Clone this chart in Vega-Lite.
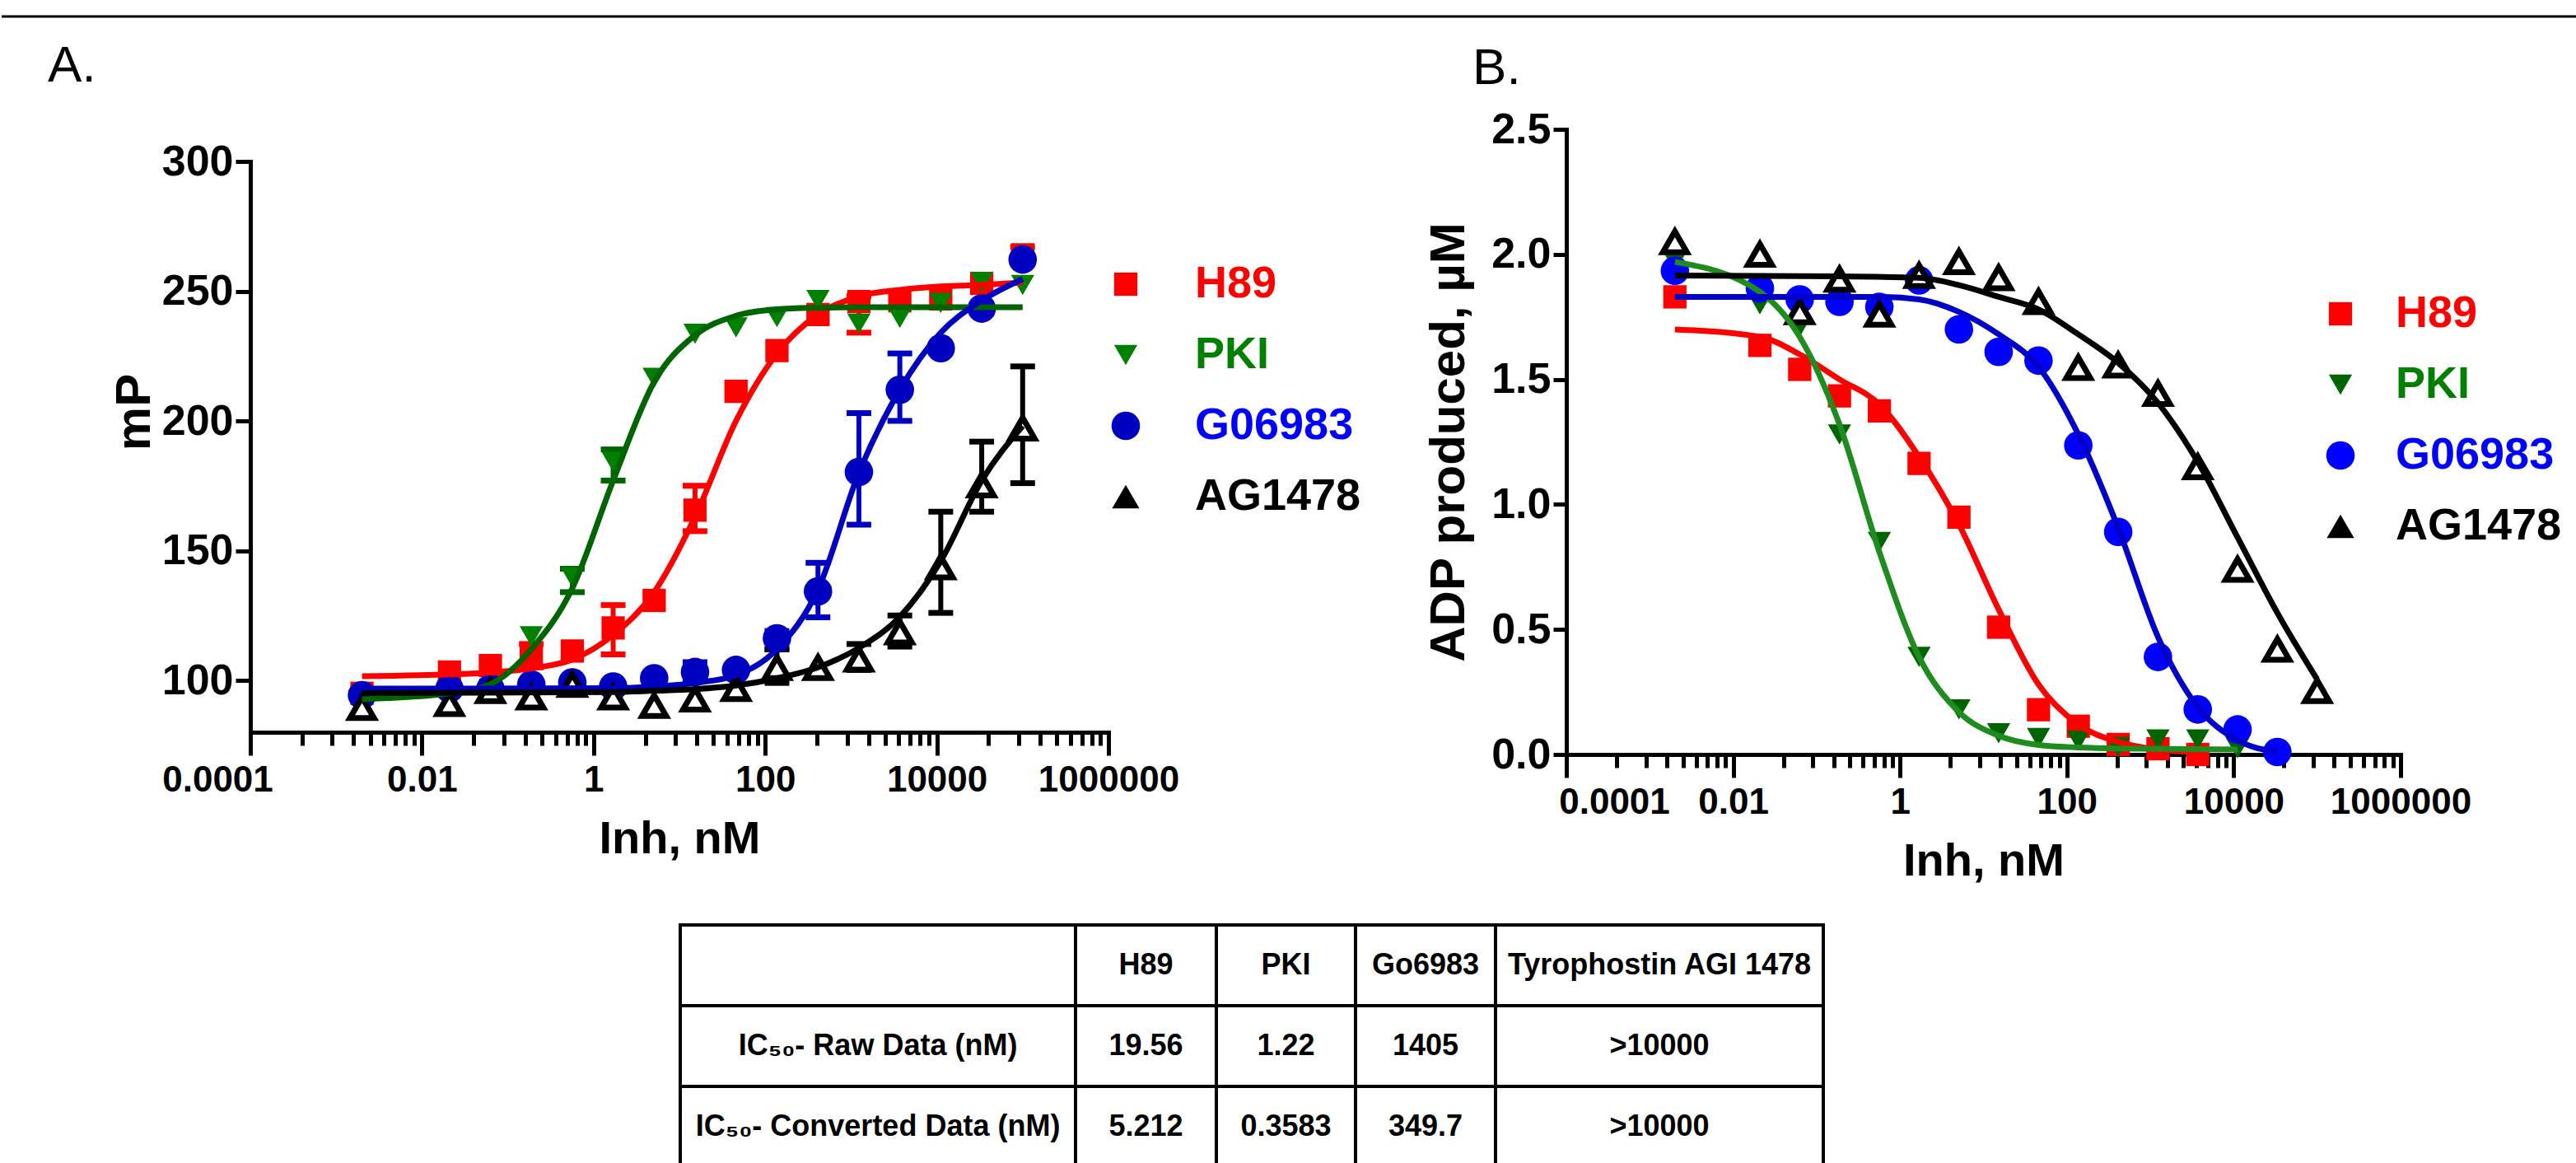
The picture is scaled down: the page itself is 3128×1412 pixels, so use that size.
{
"$schema": "https://vega.github.io/schema/vega-lite/v6.json",
"background": "white",
"padding": 0,
"spacing": 23,
"bounds": "flush",
"config": {
  "view": {"stroke": null},
  "font": "Liberation Sans",
  "axis": {"grid": false, "domainColor": "black", "domainWidth": 5, "domainCap": "square", "tickColor": "black", "tickWidth": 5, "labelFont": "Liberation Sans", "labelFontSize": 44, "labelFontWeight": "bold", "labelColor": "black", "titleFont": "Liberation Sans", "titleFontSize": 56, "titleFontWeight": "bold", "titleColor": "black", "labelFlush": false, "labelOverlap": false}
},
"datasets": {
  "ptsA": [
    {"series":"H89","conc":0.002,"value":95},{"series":"H89","conc":0.0209,"value":103.2},{"series":"H89","conc":0.0627,"value":105.7},{"series":"H89","conc":0.188,"value":108.9},{"series":"H89","conc":0.565,"value":111.3},{"series":"H89","conc":1.69,"value":120.2},{"series":"H89","conc":5.08,"value":130.8},{"series":"H89","conc":15.2,"value":165.6},{"series":"H89","conc":45.7,"value":211.4},{"series":"H89","conc":137,"value":227.1},{"series":"H89","conc":412,"value":241},{"series":"H89","conc":1235,"value":246},{"series":"H89","conc":3704,"value":246.3},{"series":"H89","conc":11111,"value":247},{"series":"H89","conc":33333,"value":253},{"series":"H89","conc":100000,"value":264},
    {"series":"PKI","conc":0.002,"value":93},{"series":"PKI","conc":0.0209,"value":96},{"series":"PKI","conc":0.0627,"value":96.8},{"series":"PKI","conc":0.188,"value":117},{"series":"PKI","conc":0.565,"value":139.7},{"series":"PKI","conc":1.69,"value":184.2},{"series":"PKI","conc":5.08,"value":216.6},{"series":"PKI","conc":15.2,"value":233.6},{"series":"PKI","conc":45.7,"value":236},{"series":"PKI","conc":137,"value":240},{"series":"PKI","conc":412,"value":246.6},{"series":"PKI","conc":1235,"value":237.5},{"series":"PKI","conc":3704,"value":239.7},{"series":"PKI","conc":11111,"value":245.5},{"series":"PKI","conc":33333,"value":253.5},{"series":"PKI","conc":100000,"value":252.4},
    {"series":"G06983","conc":0.002,"value":94.3},{"series":"G06983","conc":0.0209,"value":96.8},{"series":"G06983","conc":0.0627,"value":96.8},{"series":"G06983","conc":0.188,"value":98.4},{"series":"G06983","conc":0.565,"value":99.2},{"series":"G06983","conc":1.69,"value":97.6},{"series":"G06983","conc":5.08,"value":100.8},{"series":"G06983","conc":15.2,"value":103.2},{"series":"G06983","conc":45.7,"value":104},{"series":"G06983","conc":137,"value":116.2},{"series":"G06983","conc":412,"value":134.3},{"series":"G06983","conc":1235,"value":180.3},{"series":"G06983","conc":3704,"value":212},{"series":"G06983","conc":11111,"value":228},{"series":"G06983","conc":33333,"value":243.3},{"series":"G06983","conc":100000,"value":262.2},
    {"series":"AG1478","conc":0.002,"value":89.5},{"series":"AG1478","conc":0.0209,"value":91},{"series":"AG1478","conc":0.0627,"value":96},{"series":"AG1478","conc":0.188,"value":93.5},{"series":"AG1478","conc":0.565,"value":98.4},{"series":"AG1478","conc":1.69,"value":93.5},{"series":"AG1478","conc":5.08,"value":90.3},{"series":"AG1478","conc":15.2,"value":92.7},{"series":"AG1478","conc":45.7,"value":96.8},{"series":"AG1478","conc":137,"value":104.9},{"series":"AG1478","conc":412,"value":104.9},{"series":"AG1478","conc":1235,"value":108.1},{"series":"AG1478","conc":3704,"value":118.6},{"series":"AG1478","conc":11111,"value":143.7},{"series":"AG1478","conc":33333,"value":175.3},{"series":"AG1478","conc":100000,"value":197.2}
  ],
  "errA": [
    {"series":"H89","conc":0.188,"lo":105,"hi":114},{"series":"H89","conc":1.69,"lo":110,"hi":129},{"series":"H89","conc":15.2,"lo":157.5,"hi":175},{"series":"H89","conc":1235,"lo":234,"hi":248},{"series":"H89","conc":100000,"lo":261,"hi":267},
    {"series":"PKI","conc":0.565,"lo":134,"hi":143},{"series":"PKI","conc":1.69,"lo":177,"hi":189},
    {"series":"G06983","conc":15.2,"lo":100,"hi":107},{"series":"G06983","conc":137,"lo":112,"hi":119},{"series":"G06983","conc":412,"lo":124.3,"hi":145.3},{"series":"G06983","conc":1235,"lo":160,"hi":203},{"series":"G06983","conc":3704,"lo":200,"hi":226},
    {"series":"AG1478","conc":137,"lo":99,"hi":112},{"series":"AG1478","conc":1235,"lo":104,"hi":114},{"series":"AG1478","conc":3704,"lo":113,"hi":125},{"series":"AG1478","conc":11111,"lo":126,"hi":165},{"series":"AG1478","conc":33333,"lo":165,"hi":192},{"series":"AG1478","conc":100000,"lo":176,"hi":221}
  ],
  "curveA": [
    {"series":"H89","conc":0.002,"value":101.6},{"series":"H89","conc":0.0209,"value":102.3},{"series":"H89","conc":0.0627,"value":103},{"series":"H89","conc":0.188,"value":104.6},{"series":"H89","conc":0.565,"value":108},{"series":"H89","conc":1.69,"value":117.5},{"series":"H89","conc":5.08,"value":134},{"series":"H89","conc":15.2,"value":163},{"series":"H89","conc":45.7,"value":200},{"series":"H89","conc":137,"value":226},{"series":"H89","conc":412,"value":241},{"series":"H89","conc":1235,"value":248},{"series":"H89","conc":3704,"value":250.5},{"series":"H89","conc":11111,"value":251.8},{"series":"H89","conc":33333,"value":252.4},{"series":"H89","conc":100000,"value":253.3},
    {"series":"PKI","conc":0.002,"value":92.7},{"series":"PKI","conc":0.0209,"value":95},{"series":"PKI","conc":0.0627,"value":98.5},{"series":"PKI","conc":0.188,"value":112},{"series":"PKI","conc":0.565,"value":135.5},{"series":"PKI","conc":1.69,"value":177},{"series":"PKI","conc":5.08,"value":215},{"series":"PKI","conc":15.2,"value":233},{"series":"PKI","conc":45.7,"value":240.5},{"series":"PKI","conc":137,"value":243},{"series":"PKI","conc":412,"value":243.6},{"series":"PKI","conc":1235,"value":243.8},{"series":"PKI","conc":100000,"value":243.8},
    {"series":"G06983","conc":0.002,"value":96.8},{"series":"G06983","conc":1.69,"value":97},{"series":"G06983","conc":5.08,"value":97.6},{"series":"G06983","conc":15.2,"value":99},{"series":"G06983","conc":45.7,"value":102},{"series":"G06983","conc":137,"value":112},{"series":"G06983","conc":412,"value":135},{"series":"G06983","conc":1235,"value":180},{"series":"G06983","conc":3704,"value":212},{"series":"G06983","conc":11111,"value":234},{"series":"G06983","conc":33333,"value":246.4},{"series":"G06983","conc":100000,"value":254.7},
    {"series":"AG1478","conc":0.002,"value":95.1},{"series":"AG1478","conc":1.69,"value":95.5},{"series":"AG1478","conc":5.08,"value":96},{"series":"AG1478","conc":15.2,"value":96.6},{"series":"AG1478","conc":45.7,"value":98},{"series":"AG1478","conc":137,"value":100.8},{"series":"AG1478","conc":412,"value":105},{"series":"AG1478","conc":1235,"value":112.5},{"series":"AG1478","conc":3704,"value":124.5},{"series":"AG1478","conc":11111,"value":146},{"series":"AG1478","conc":33333,"value":177},{"series":"AG1478","conc":100000,"value":198}
  ],
  "ptsB": [
    {"series":"H89","conc":0.002,"value":1.83},{"series":"H89","conc":0.0209,"value":1.636},{"series":"H89","conc":0.0627,"value":1.54},{"series":"H89","conc":0.188,"value":1.434},{"series":"H89","conc":0.565,"value":1.374},{"series":"H89","conc":1.69,"value":1.164},{"series":"H89","conc":5.08,"value":0.949},{"series":"H89","conc":15.2,"value":0.509},{"series":"H89","conc":45.7,"value":0.179},{"series":"H89","conc":137,"value":0.113},{"series":"H89","conc":412,"value":0.04},{"series":"H89","conc":1235,"value":0.023},{"series":"H89","conc":3704,"value":0.0},
    {"series":"PKI","conc":0.002,"value":1.97},{"series":"PKI","conc":0.0209,"value":1.8},{"series":"PKI","conc":0.0627,"value":1.71},{"series":"PKI","conc":0.188,"value":1.28},{"series":"PKI","conc":0.565,"value":0.85},{"series":"PKI","conc":1.69,"value":0.39},{"series":"PKI","conc":5.08,"value":0.18},{"series":"PKI","conc":15.2,"value":0.085},{"series":"PKI","conc":45.7,"value":0.066},{"series":"PKI","conc":137,"value":0.055},{"series":"PKI","conc":412,"value":0.03},{"series":"PKI","conc":1235,"value":0.06},{"series":"PKI","conc":3704,"value":0.06},{"series":"PKI","conc":11111,"value":0.025},
    {"series":"G06983","conc":0.002,"value":1.934},{"series":"G06983","conc":0.0209,"value":1.864},{"series":"G06983","conc":0.0627,"value":1.82},{"series":"G06983","conc":0.188,"value":1.81},{"series":"G06983","conc":0.565,"value":1.79},{"series":"G06983","conc":1.69,"value":1.896},{"series":"G06983","conc":5.08,"value":1.7},{"series":"G06983","conc":15.2,"value":1.61},{"series":"G06983","conc":45.7,"value":1.575},{"series":"G06983","conc":137,"value":1.236},{"series":"G06983","conc":412,"value":0.89},{"series":"G06983","conc":1235,"value":0.39},{"series":"G06983","conc":3704,"value":0.18},{"series":"G06983","conc":11111,"value":0.1},{"series":"G06983","conc":33333,"value":0.01},
    {"series":"AG1478","conc":0.002,"value":2.05},{"series":"AG1478","conc":0.0209,"value":2.0},{"series":"AG1478","conc":0.0627,"value":1.77},{"series":"AG1478","conc":0.188,"value":1.9},{"series":"AG1478","conc":0.565,"value":1.76},{"series":"AG1478","conc":1.69,"value":1.915},{"series":"AG1478","conc":5.08,"value":1.97},{"series":"AG1478","conc":15.2,"value":1.906},{"series":"AG1478","conc":45.7,"value":1.81},{"series":"AG1478","conc":137,"value":1.547},{"series":"AG1478","conc":412,"value":1.557},{"series":"AG1478","conc":1235,"value":1.443},{"series":"AG1478","conc":3704,"value":1.15},{"series":"AG1478","conc":11111,"value":0.74},{"series":"AG1478","conc":33333,"value":0.42},{"series":"AG1478","conc":100000,"value":0.255}
  ],
  "curveB": [
    {"series":"H89","conc":0.002,"value":1.7},{"series":"H89","conc":0.0209,"value":1.67},{"series":"H89","conc":0.0627,"value":1.6},{"series":"H89","conc":0.188,"value":1.5},{"series":"H89","conc":0.565,"value":1.4},{"series":"H89","conc":1.69,"value":1.19},{"series":"H89","conc":5.08,"value":0.92},{"series":"H89","conc":15.2,"value":0.58},{"series":"H89","conc":45.7,"value":0.28},{"series":"H89","conc":137,"value":0.12},{"series":"H89","conc":412,"value":0.05},{"series":"H89","conc":1235,"value":0.02},{"series":"H89","conc":3704,"value":0.01},
    {"series":"PKI","conc":0.002,"value":1.97},{"series":"PKI","conc":0.0209,"value":1.85},{"series":"PKI","conc":0.0627,"value":1.67},{"series":"PKI","conc":0.188,"value":1.32},{"series":"PKI","conc":0.565,"value":0.81},{"series":"PKI","conc":1.69,"value":0.39},{"series":"PKI","conc":5.08,"value":0.17},{"series":"PKI","conc":15.2,"value":0.075},{"series":"PKI","conc":45.7,"value":0.038},{"series":"PKI","conc":137,"value":0.028},{"series":"PKI","conc":412,"value":0.024},{"series":"PKI","conc":11111,"value":0.02},
    {"series":"G06983","conc":0.002,"value":1.83},{"series":"G06983","conc":0.565,"value":1.83},{"series":"G06983","conc":1.69,"value":1.82},{"series":"G06983","conc":5.08,"value":1.77},{"series":"G06983","conc":15.2,"value":1.68},{"series":"G06983","conc":45.7,"value":1.55},{"series":"G06983","conc":137,"value":1.28},{"series":"G06983","conc":412,"value":0.906},{"series":"G06983","conc":1235,"value":0.47},{"series":"G06983","conc":3704,"value":0.19},{"series":"G06983","conc":11111,"value":0.057},{"series":"G06983","conc":33333,"value":0.01},
    {"series":"AG1478","conc":0.002,"value":1.915},{"series":"AG1478","conc":0.188,"value":1.912},{"series":"AG1478","conc":1.69,"value":1.906},{"series":"AG1478","conc":5.08,"value":1.877},{"series":"AG1478","conc":15.2,"value":1.83},{"series":"AG1478","conc":45.7,"value":1.78},{"series":"AG1478","conc":137,"value":1.68},{"series":"AG1478","conc":412,"value":1.566},{"series":"AG1478","conc":1235,"value":1.406},{"series":"AG1478","conc":3704,"value":1.17},{"series":"AG1478","conc":11111,"value":0.868},{"series":"AG1478","conc":33333,"value":0.566},{"series":"AG1478","conc":100000,"value":0.3}
  ],
  "table": [
    {"row":"h","col":"c1","text":""},{"row":"h","col":"c2","text":"H89"},{"row":"h","col":"c3","text":"PKI"},{"row":"h","col":"c4","text":"Go6983"},{"row":"h","col":"c5","text":"Tyrophostin AGI 1478"},
    {"row":"r1","col":"c1","text":"IC₅₀- Raw Data (nM)"},{"row":"r1","col":"c2","text":"19.56"},{"row":"r1","col":"c3","text":"1.22"},{"row":"r1","col":"c4","text":"1405"},{"row":"r1","col":"c5","text":">10000"},
    {"row":"r2","col":"c1","text":"IC₅₀- Converted Data (nM)"},{"row":"r2","col":"c2","text":"5.212"},{"row":"r2","col":"c3","text":"0.3583"},{"row":"r2","col":"c4","text":"349.7"},{"row":"r2","col":"c5","text":">10000"}
  ]
},
"vconcat": [
  {
    "width": 3128, "height": 1100,
    "resolve": {"scale": {"x": "independent", "y": "independent", "fill": "independent", "shape": "independent", "stroke": "independent"}, "axis": {"x": "independent", "y": "independent"}, "legend": {"fill": "independent", "shape": "independent", "stroke": "independent"}},
    "layer": [
      {
        "layer": [
          {
            "data": {"values": [{"label": "top rule"}]},
            "mark": {"type": "rule", "strokeWidth": 3, "color": "black"},
            "encoding": {"y": {"datum": 355.9, "type": "quantitative", "title": "mP", "scale": {"domain": [80, 300], "range": [889, 196], "nice": false, "zero": false}}}
          },
          {
            "data": {"values": [{"label": "A."}]},
            "mark": {"type": "text", "font": "Liberation Sans", "fontSize": 62, "fontWeight": "normal", "align": "left", "baseline": "alphabetic", "color": "black"},
            "encoding": {
              "text": {"field": "label"},
              "x": {"datum": 4.36e-7, "type": "quantitative", "title": "Inh, nM", "scale": {"type": "log", "domain": [0.0001, 1000000], "range": [302, 1344], "nice": false}},
              "y": {"datum": 330.8, "type": "quantitative", "title": "mP", "scale": {"domain": [80, 300], "range": [889, 196], "nice": false, "zero": false}}
            }
          },
          {
            "data": {"name": "errA"},
            "mark": {"type": "rule", "strokeWidth": 6},
            "encoding": {
              "x": {"field": "conc", "type": "quantitative", "title": "Inh, nM", "scale": {"type": "log", "domain": [0.0001, 1000000], "range": [302, 1344], "nice": false}},
              "y": {"field": "lo", "type": "quantitative", "title": "mP", "scale": {"domain": [80, 300], "range": [889, 196], "nice": false, "zero": false}},
              "y2": {"field": "hi"},
              "stroke": {"field": "series", "type": "nominal", "scale": {"domain": ["AG1478", "G06983", "PKI", "H89"], "range": ["#000000", "#0000c0", "#006400", "#ff0000"]}, "legend": null}
            }
          },
          {
            "data": {"name": "errA"},
            "transform": [{"fold": ["lo", "hi"], "as": ["end", "yv"]}],
            "mark": {"type": "point", "shape": "stroke", "filled": false, "size": 900, "strokeWidth": 7, "opacity": 1},
            "encoding": {
              "x": {"field": "conc", "type": "quantitative", "title": "Inh, nM", "scale": {"type": "log", "domain": [0.0001, 1000000], "range": [302, 1344], "nice": false}},
              "y": {"field": "yv", "type": "quantitative", "title": "mP", "scale": {"domain": [80, 300], "range": [889, 196], "nice": false, "zero": false}},
              "stroke": {"field": "series", "type": "nominal", "scale": {"domain": ["AG1478", "G06983", "PKI", "H89"], "range": ["#000000", "#0000c0", "#006400", "#ff0000"]}, "legend": null}
            }
          },
          {
            "data": {"name": "ptsA"},
            "mark": {"type": "point", "filled": true, "opacity": 1},
            "encoding": {
              "x": {"field": "conc", "type": "quantitative", "title": "Inh, nM", "scale": {"type": "log", "domain": [0.0001, 1000000], "range": [302, 1344], "nice": false},
                "axis": {"orient": "bottom", "offset": -211, "values": [0.0001,0.0004,0.0009,0.0016,0.0025,0.0036,0.0049,0.0064,0.0081,0.01,0.04,0.09,0.16,0.25,0.36,0.49,0.64,0.81,1,4,9,16,25,36,49,64,81,100,400,900,1600,2500,3600,4900,6400,8100,10000,40000,90000,160000,250000,360000,490000,640000,810000,1000000],
                  "tickSize": {"condition": {"test": "abs(log(datum.value)/LN10 - round(log(datum.value)/LN10)) < 0.01", "value": 28}, "value": 16},
                  "labelExpr": "abs(log(datum.value)/LN10 - round(log(datum.value)/LN10)) < 0.01 ? format(datum.value, '~f') : ''",
                  "labelOffset": {"condition": {"test": "datum.value < 0.001", "value": -40}, "value": 0},
                  "labelFontSize": 44, "labelPadding": 8, "titlePadding": 22}},
              "y": {"field": "value", "type": "quantitative", "title": "mP", "scale": {"domain": [80, 300], "range": [889, 196], "nice": false, "zero": false},
                "axis": {"orient": "left", "offset": -302, "values": [100, 150, 200, 250, 300], "tickSize": 18, "labelFontSize": 52, "labelPadding": 3, "titleFontSize": 60, "titlePadding": 2, "titleY": 500}},
              "fill": {"field": "series", "type": "nominal", "scale": {"domain": ["H89", "PKI", "G06983", "AG1478"], "range": ["#ff0000", "#008000", "#0000c0", "#000000"]},
                "condition": {"test": "datum.series === 'AG1478'", "value": "#ffffff"},
                "legend": {"title": null, "values": ["H89", "PKI", "G06983", "AG1478"], "orient": "none", "legendX": 1338, "legendY": 318, "padding": 0, "labelFont": "Liberation Sans", "labelFontSize": 54, "labelFontWeight": "bold", "labelLimit": 500, "labelOffset": 57, "rowPadding": 32, "symbolOpacity": 1,
                  "labelColor": {"expr": "datum.value === 'H89' ? '#ff0000' : datum.value === 'PKI' ? '#008000' : datum.value === 'G06983' ? '#0000ff' : '#000000'"},
                  "symbolSize": {"expr": "datum.value === 'G06983' ? 1200 : datum.value === 'AG1478' ? 1100 : 800"}}},
              "shape": {"field": "series", "type": "nominal", "scale": {"domain": ["H89", "PKI", "G06983", "AG1478"], "range": ["square", "triangle-down", "circle", "triangle-up"]}},
              "size": {"condition": [{"test": "datum.series === 'G06983'", "value": 1200}, {"test": "datum.series === 'AG1478'", "value": 850}], "value": 800},
              "stroke": {"condition": {"test": "datum.series === 'AG1478'", "value": "#000000"}, "value": "transparent"},
              "strokeWidth": {"condition": {"test": "datum.series === 'AG1478'", "value": 7}, "value": 0}
            }
          },
          {
            "data": {"name": "curveA"},
            "mark": {"type": "line", "strokeWidth": 7, "interpolate": "monotone"},
            "encoding": {
              "x": {"field": "conc", "type": "quantitative", "title": "Inh, nM", "scale": {"type": "log", "domain": [0.0001, 1000000], "range": [302, 1344], "nice": false}},
              "y": {"field": "value", "type": "quantitative", "title": "mP", "scale": {"domain": [80, 300], "range": [889, 196], "nice": false, "zero": false}},
              "stroke": {"field": "series", "type": "nominal", "scale": {"domain": ["AG1478", "G06983", "PKI", "H89"], "range": ["#000000", "#0000c0", "#006400", "#ff0000"]}, "legend": null}
            }
          }
        ]
      },
      {
        "layer": [
          {
            "data": {"values": [{"label": "B."}]},
            "mark": {"type": "text", "font": "Liberation Sans", "fontSize": 62, "fontWeight": "normal", "align": "left", "baseline": "alphabetic", "color": "black"},
            "encoding": {
              "text": {"field": "label"},
              "x": {"datum": 7.5e-6, "type": "quantitative", "title": "Inh, nM", "scale": {"type": "log", "domain": [0.0001, 1000000], "range": [1900, 2913], "nice": false}},
              "y": {"datum": 2.681, "type": "quantitative", "title": "ADP produced, µM", "scale": {"domain": [0, 2.5], "range": [916, 157], "nice": false, "zero": false}}
            }
          },
          {
            "data": {"name": "ptsB"},
            "mark": {"type": "point", "filled": true, "opacity": 1},
            "encoding": {
              "x": {"field": "conc", "type": "quantitative", "title": "Inh, nM", "scale": {"type": "log", "domain": [0.0001, 1000000], "range": [1900, 2913], "nice": false},
                "axis": {"orient": "bottom", "offset": -184, "values": [0.0001,0.0004,0.0009,0.0016,0.0025,0.0036,0.0049,0.0064,0.0081,0.01,0.04,0.09,0.16,0.25,0.36,0.49,0.64,0.81,1,4,9,16,25,36,49,64,81,100,400,900,1600,2500,3600,4900,6400,8100,10000,40000,90000,160000,250000,360000,490000,640000,810000,1000000],
                  "tickSize": {"condition": {"test": "abs(log(datum.value)/LN10 - round(log(datum.value)/LN10)) < 0.01", "value": 28}, "value": 16},
                  "labelExpr": "abs(log(datum.value)/LN10 - round(log(datum.value)/LN10)) < 0.01 ? format(datum.value, '~f') : ''",
                  "labelOffset": {"condition": {"test": "datum.value < 0.001", "value": 58}, "value": 0},
                  "labelFontSize": 44, "labelPadding": 8, "titlePadding": 22}},
              "y": {"field": "value", "type": "quantitative", "title": "ADP produced, µM", "scale": {"domain": [0, 2.5], "range": [916, 157], "nice": false, "zero": false},
                "axis": {"orient": "left", "offset": -1900, "values": [0, 0.5, 1, 1.5, 2, 2.5], "format": ".1f", "tickSize": 16, "labelFontSize": 52, "labelPadding": 3, "titleFontSize": 60, "titlePadding": 20}},
              "fill": {"field": "series", "type": "nominal", "scale": {"domain": ["AG1478", "G06983", "PKI", "H89"], "range": ["#000000", "#0000ff", "#006400", "#ff0000"]},
                "condition": {"test": "datum.series === 'AG1478'", "value": "#ffffff"},
                "legend": {"title": null, "values": ["H89", "PKI", "G06983", "AG1478"], "orient": "none", "legendX": 2813, "legendY": 354, "padding": 0, "labelFont": "Liberation Sans", "labelFontSize": 54, "labelFontWeight": "bold", "labelLimit": 500, "labelOffset": 40, "rowPadding": 32, "symbolOpacity": 1,
                  "labelColor": {"expr": "datum.value === 'H89' ? '#ff0000' : datum.value === 'PKI' ? '#008000' : datum.value === 'G06983' ? '#0000ff' : '#000000'"},
                  "symbolSize": {"expr": "datum.value === 'G06983' ? 1200 : datum.value === 'AG1478' ? 1100 : 800"}}},
              "shape": {"field": "series", "type": "nominal", "scale": {"domain": ["AG1478", "G06983", "PKI", "H89"], "range": ["triangle-up", "circle", "triangle-down", "square"]}},
              "size": {"condition": [{"test": "datum.series === 'G06983'", "value": 1200}, {"test": "datum.series === 'AG1478'", "value": 850}], "value": 800},
              "stroke": {"condition": {"test": "datum.series === 'AG1478'", "value": "#000000"}, "value": "transparent"},
              "strokeWidth": {"condition": {"test": "datum.series === 'AG1478'", "value": 7}, "value": 0}
            }
          },
          {
            "data": {"name": "curveB"},
            "mark": {"type": "line", "strokeWidth": 7, "interpolate": "monotone"},
            "encoding": {
              "x": {"field": "conc", "type": "quantitative", "title": "Inh, nM", "scale": {"type": "log", "domain": [0.0001, 1000000], "range": [1900, 2913], "nice": false}},
              "y": {"field": "value", "type": "quantitative", "title": "ADP produced, µM", "scale": {"domain": [0, 2.5], "range": [916, 157], "nice": false, "zero": false}},
              "stroke": {"field": "series", "type": "nominal", "scale": {"domain": ["H89", "PKI", "G06983", "AG1478"], "range": ["#ff0000", "#1e8c1e", "#0000c8", "#000000"]}, "legend": null}
            }
          }
        ]
      }
    ]
  },
  {
    "hconcat": [
      {"width": 824, "height": 294, "data": {"values": [{"a": 1}]}, "mark": {"type": "point", "opacity": 0}},
      {"width": 480, "height": 294, "data": {"name": "table"}, "transform": [{"filter": "datum.col === 'c1'"}],
        "layer": [
          {"mark": {"type": "rect", "fill": "white", "stroke": "black", "strokeWidth": 4}, "encoding": {"y": {"field": "row", "type": "nominal", "scale": {"domain": ["h", "r1", "r2"], "paddingInner": 0, "paddingOuter": 0}, "axis": null}}},
          {"mark": {"type": "text", "font": "Liberation Sans", "fontSize": 36, "fontWeight": "bold", "color": "black"}, "encoding": {"y": {"field": "row", "type": "nominal", "scale": {"domain": ["h", "r1", "r2"], "paddingInner": 0, "paddingOuter": 0}, "axis": null}, "text": {"field": "text"}}}
        ]},
      {"width": 171, "height": 294, "data": {"name": "table"}, "transform": [{"filter": "datum.col === 'c2'"}],
        "layer": [
          {"mark": {"type": "rect", "fill": "white", "stroke": "black", "strokeWidth": 4}, "encoding": {"y": {"field": "row", "type": "nominal", "scale": {"domain": ["h", "r1", "r2"], "paddingInner": 0, "paddingOuter": 0}, "axis": null}}},
          {"mark": {"type": "text", "font": "Liberation Sans", "fontSize": 36, "fontWeight": "bold", "color": "black"}, "encoding": {"y": {"field": "row", "type": "nominal", "scale": {"domain": ["h", "r1", "r2"], "paddingInner": 0, "paddingOuter": 0}, "axis": null}, "text": {"field": "text"}}}
        ]},
      {"width": 169, "height": 294, "data": {"name": "table"}, "transform": [{"filter": "datum.col === 'c3'"}],
        "layer": [
          {"mark": {"type": "rect", "fill": "white", "stroke": "black", "strokeWidth": 4}, "encoding": {"y": {"field": "row", "type": "nominal", "scale": {"domain": ["h", "r1", "r2"], "paddingInner": 0, "paddingOuter": 0}, "axis": null}}},
          {"mark": {"type": "text", "font": "Liberation Sans", "fontSize": 36, "fontWeight": "bold", "color": "black"}, "encoding": {"y": {"field": "row", "type": "nominal", "scale": {"domain": ["h", "r1", "r2"], "paddingInner": 0, "paddingOuter": 0}, "axis": null}, "text": {"field": "text"}}}
        ]},
      {"width": 170, "height": 294, "data": {"name": "table"}, "transform": [{"filter": "datum.col === 'c4'"}],
        "layer": [
          {"mark": {"type": "rect", "fill": "white", "stroke": "black", "strokeWidth": 4}, "encoding": {"y": {"field": "row", "type": "nominal", "scale": {"domain": ["h", "r1", "r2"], "paddingInner": 0, "paddingOuter": 0}, "axis": null}}},
          {"mark": {"type": "text", "font": "Liberation Sans", "fontSize": 36, "fontWeight": "bold", "color": "black"}, "encoding": {"y": {"field": "row", "type": "nominal", "scale": {"domain": ["h", "r1", "r2"], "paddingInner": 0, "paddingOuter": 0}, "axis": null}, "text": {"field": "text"}}}
        ]},
      {"width": 398, "height": 294, "data": {"name": "table"}, "transform": [{"filter": "datum.col === 'c5'"}],
        "layer": [
          {"mark": {"type": "rect", "fill": "white", "stroke": "black", "strokeWidth": 4}, "encoding": {"y": {"field": "row", "type": "nominal", "scale": {"domain": ["h", "r1", "r2"], "paddingInner": 0, "paddingOuter": 0}, "axis": null}}},
          {"mark": {"type": "text", "font": "Liberation Sans", "fontSize": 36, "fontWeight": "bold", "color": "black"}, "encoding": {"y": {"field": "row", "type": "nominal", "scale": {"domain": ["h", "r1", "r2"], "paddingInner": 0, "paddingOuter": 0}, "axis": null}, "text": {"field": "text"}}}
        ]}
    ],
    "spacing": 0,
    "bounds": "flush"
  }
]
}
